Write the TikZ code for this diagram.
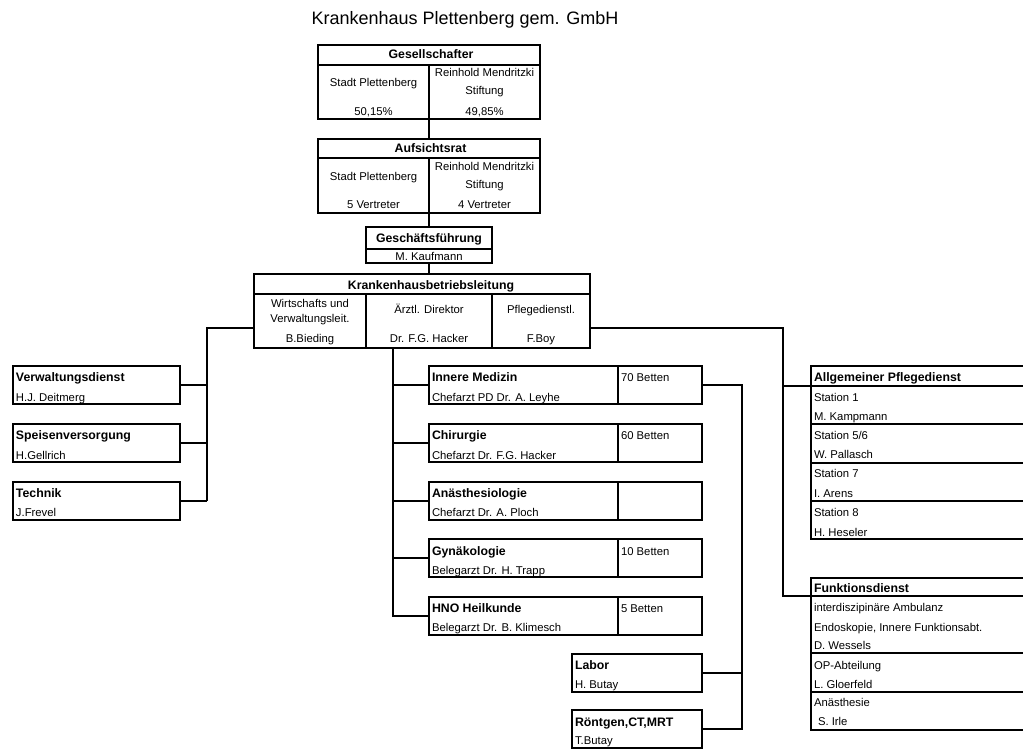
\documentclass[tikz,border=0pt]{standalone}
\usepackage{fontspec}
\setmainfont{Liberation Sans}
\newcommand\mkbox[5]{\node[box,minimum width={(#4-#2)*1pt},minimum height={(#5-#3)*1pt}] (#1) at ({(#2+#4)/2},{(#3+#5)/2}) {};}
\begin{document}
\begin{tikzpicture}[x=1pt,y=-1pt,
  box/.style={draw=black,line width=2pt,fill=white,inner sep=0pt,outer sep=0pt,rectangle},
  conn/.style={draw=black,line width=2pt},
  divl/.style={draw=black,line width=1.3pt},
  txt/.style={inner sep=0pt,outer sep=0pt,text height=8pt,text depth=0pt,font=\fontsize{11.3}{13}\selectfont},
  hdr/.style={txt,font=\fontsize{12.3}{14}\selectfont\bfseries},
  lt/.style={txt,anchor=west},
  lh/.style={hdr,anchor=west}]
\useasboundingbox (0,0) rectangle (1023,749);
\clip (0,0) rectangle (1023,749);
\fill[white] (0,0) rectangle (1023,749);

% title
\node[inner sep=0pt,anchor=base,font=\fontsize{18}{20}\selectfont] (title) at (465,24.5) {Krankenhaus Plettenberg gem. GmbH};

% Gesellschafter
\mkbox{ges}{318}{45}{540}{119}
\draw[divl] (318,65) -- (540,65);
\draw[divl] (429,65) -- (429,119);
\node[hdr] (gesh) at (431,55) {Gesellschafter};
\node[txt] (ges1) at (373.5,83) {Stadt Plettenberg};
\node[txt] (ges2) at (373.5,112) {50,15\%};
\node[txt] (ges3) at (484.5,73) {Reinhold Mendritzki};
\node[txt] (ges4) at (484.5,91) {Stiftung};
\node[txt] (ges5) at (484.5,112) {49,85\%};

% Aufsichtsrat
\mkbox{auf}{318}{139}{540}{213}
\draw[divl] (318,158) -- (540,158);
\draw[divl] (429,158) -- (429,213);
\node[hdr] (aufh) at (430.5,148.5) {Aufsichtsrat};
\node[txt] (auf1) at (373.5,177) {Stadt Plettenberg};
\node[txt] (auf2) at (373.5,204) {5 Vertreter};
\node[txt] (auf3) at (484.5,167) {Reinhold Mendritzki};
\node[txt] (auf4) at (484.5,185) {Stiftung};
\node[txt] (auf5) at (484.5,204) {4 Vertreter};

% Geschaeftsfuehrung
\mkbox{gf}{366}{227}{492}{263}
\draw[divl] (366,249) -- (492,249);
\node[hdr] (gfh) at (429,238) {Geschäftsführung};
\node[txt] (gf1) at (429,256) {M. Kaufmann};

% Krankenhausbetriebsleitung
\mkbox{kbl}{254}{274}{590}{348}
\draw[divl] (254,294) -- (590,294);
\draw[divl] (366,294) -- (366,348);
\draw[divl] (492,294) -- (492,348);
\node[hdr] (kblh) at (431,285) {Krankenhausbetriebsleitung};
\node[txt] (kbl1) at (310,303) {Wirtschafts und};
\node[txt] (kbl2) at (310,318) {Verwaltungsleit.};
\node[txt] (kbl3) at (310,338) {B.Bieding};
\node[txt] (kbl4) at (429,309) {Ärztl. Direktor};
\node[txt] (kbl5) at (429,338) {Dr. F.G. Hacker};
\node[txt] (kbl6) at (541,309) {Pflegedienstl.};
\node[txt] (kbl7) at (541,338) {F.Boy};

% left boxes
\mkbox{vd}{13}{366}{180}{404}
\node[lh] (vdh) at (16,377) {Verwaltungsdienst};
\node[lt] (vd1) at (16,397) {H.J. Deitmerg};
\mkbox{sv}{13}{424}{180}{462}
\node[lh] (svh) at (16,435) {Speisenversorgung};
\node[lt] (sv1) at (16,455) {H.Gellrich};
\mkbox{tech}{13}{482}{180}{520}
\node[lh] (techh) at (16,493) {Technik};
\node[lt] (tech1) at (16,512) {J.Frevel};

% centre boxes
\mkbox{im}{429}{366}{702}{404}
\draw[divl] (618,366) -- (618,404);
\node[lh] (imh) at (432,377) {Innere Medizin};
\node[lt] (im1) at (432,397) {Chefarzt PD Dr. A. Leyhe};
\node[lt] (im2) at (621,377) {70 Betten};

\mkbox{ch}{429}{424}{702}{462}
\draw[divl] (618,424) -- (618,462);
\node[lh] (chh) at (432,435) {Chirurgie};
\node[lt] (ch1) at (432,455) {Chefarzt Dr. F.G. Hacker};
\node[lt] (ch2) at (621,435) {60 Betten};

\mkbox{an}{429}{482}{702}{520}
\draw[divl] (618,482) -- (618,520);
\node[lh] (anh) at (432,493) {Anästhesiologie};
\node[lt] (an1) at (432,512) {Chefarzt Dr. A. Ploch};

\mkbox{gy}{429}{539}{702}{577}
\draw[divl] (618,539) -- (618,577);
\node[lh] (gyh) at (432,551) {Gynäkologie};
\node[lt] (gy1) at (432,570) {Belegarzt Dr. H. Trapp};
\node[lt] (gy2) at (621,551) {10 Betten};

\mkbox{hno}{429}{597}{702}{635}
\draw[divl] (618,597) -- (618,635);
\node[lh] (hnoh) at (432,608) {HNO Heilkunde};
\node[lt] (hno1) at (432,627) {Belegarzt Dr. B. Klimesch};
\node[lt] (hno2) at (621,608) {5 Betten};

\mkbox{lab}{572}{654}{702}{692}
\node[lh] (labh) at (575,665) {Labor};
\node[lt] (lab1) at (575,684) {H. Butay};

\mkbox{rt}{572}{710}{702}{748}
\node[lh] (rth) at (575,722) {Röntgen,CT,MRT};
\node[lt] (rt1) at (575,740) {T.Butay};

% right boxes
\mkbox{apd}{811}{366}{1030}{539}
\draw[divl] (811,386) -- (1030,386);
\draw[divl] (811,424) -- (1030,424);
\draw[divl] (811,463) -- (1030,463);
\draw[divl] (811,501) -- (1030,501);
\node[lh] (apdh) at (814,377) {Allgemeiner Pflegedienst};
\node[lt] (apd1) at (814,397) {Station 1};
\node[lt] (apd2) at (814,416) {M. Kampmann};
\node[lt] (apd3) at (814,435) {Station 5/6};
\node[lt] (apd4) at (814,454) {W. Pallasch};
\node[lt] (apd5) at (814,473) {Station 7};
\node[lt] (apd6) at (814,493) {I. Arens};
\node[lt] (apd7) at (814,512) {Station 8};
\node[lt] (apd8) at (814,532) {H. Heseler};

\mkbox{fd}{811}{578}{1030}{730}
\draw[divl] (811,596) -- (1030,596);
\draw[divl] (811,653) -- (1030,653);
\draw[divl] (811,692) -- (1030,692);
\node[lh] (fdh) at (814,588) {Funktionsdienst};
\node[lt] (fd1) at (814,607) {interdiszipinäre Ambulanz};
\node[lt] (fd2) at (814,627) {Endoskopie, Innere Funktionsabt.};
\node[lt] (fd3) at (814,645) {D. Wessels};
\node[lt] (fd4) at (814,665) {OP-Abteilung};
\node[lt] (fd5) at (814,684) {L. Gloerfeld};
\node[lt] (fd6) at (814,702) {Anästhesie};
\node[lt] (fd7) at (818,721) {S. Irle};

% connectors
\draw[conn] (ges.south) -- (auf.north);
\draw[conn] (auf.south) -- (gf.north);
\draw[conn] (gf.south) -- (gf.south |- kbl.north);

\coordinate (lb) at (207,328);
\draw[conn] (kbl.west |- lb) -- (lb) -- (lb |- tech.east);
\draw[conn] (vd.east) -- (vd.east -| lb);
\draw[conn] (sv.east) -- (sv.east -| lb);
\draw[conn] (tech.east) -- (tech.east -| lb);

\coordinate (cb) at (393,348);
\draw[conn] (kbl.south -| cb) -- (cb |- hno.west) -- (hno.west);
\draw[conn] (im.west -| cb) -- (im.west);
\draw[conn] (ch.west -| cb) -- (ch.west);
\draw[conn] (an.west -| cb) -- (an.west);
\draw[conn] (gy.west -| cb) -- (gy.west);

\coordinate (mb) at (742,385);
\draw[conn] (im.east) -- (im.east -| mb) -- (mb |- rt.east) -- (rt.east);
\draw[conn] (lab.east) -- (lab.east -| mb);

\coordinate (rb) at (783,328);
\coordinate (apdc) at (811,386);
\coordinate (fdc) at (811,596);
\draw[conn] (kbl.east |- rb) -- (rb) -- (rb |- fdc) -- (fdc);
\draw[conn] (rb |- apdc) -- (apdc);
\end{tikzpicture}
\end{document}
